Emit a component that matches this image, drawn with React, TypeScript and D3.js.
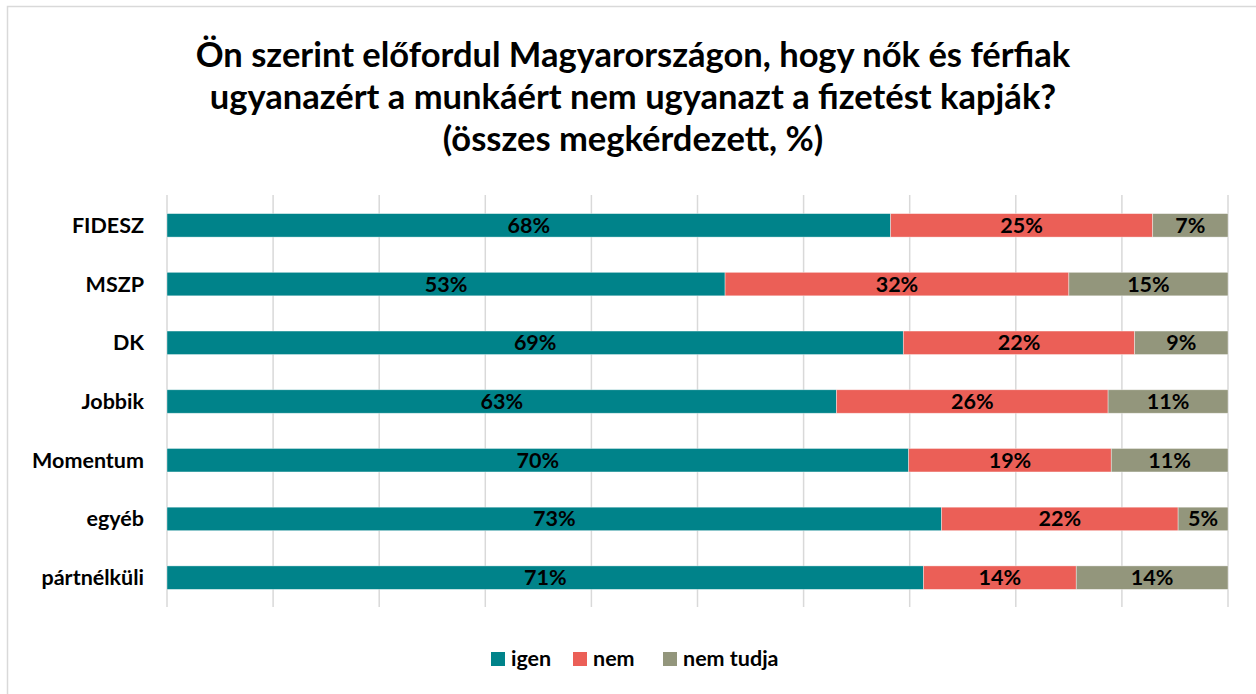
import React from "react";
import * as d3 from "d3";

const categories = ["FIDESZ", "MSZP", "DK", "Jobbik", "Momentum", "egyéb", "pártnélküli"];
const igen = [68.2, 52.6, 69.4, 63.1, 69.9, 73.0, 71.3];
const nem = [24.7, 32.4, 21.8, 25.6, 19.1, 22.3, 14.4];
const nemTudja = [7.1, 15.0, 8.8, 11.3, 11.0, 4.7, 14.3];
const seriesNames = ["igen", "nem", "nem tudja"];
const seriesColors = ["#00838a", "#eb5f57", "#93967c"];
const ticks = [0, 10, 20, 30, 40, 50, 60, 70, 80, 90, 100];
const titleLines = [
  "Ön szerint előfordul Magyarországon, hogy nők és férfiak",
  "ugyanazért a munkáért nem ugyanazt a fizetést kapják?",
  "(összes megkérdezett, %)",
];

const W = 1256;
const H = 694;
const FONT = "Lato, 'Open Sans', sans-serif";

export default function App() {
  const x = d3.scaleLinear().domain([0, 100]).range([167, 1228]);
  const y = d3.scaleBand<string>().domain(categories).range([196, 607]).paddingInner(0.6).paddingOuter(0.3);
  const table = categories.map((c, i) => ({ cat: c, igen: igen[i], nem: nem[i], "nem tudja": nemTudja[i] }));
  const stack = d3.stack<any>().keys(seriesNames)(table);

  return (
    <svg width={W} height={H} style={{ position: "absolute", left: 0, top: 0, display: "block" }} fontFamily={FONT}>
      <rect x={0} y={0} width={W} height={H} fill="#fff" />
      <rect x={7.5} y={6.5} width={W + 10} height={H + 10} fill="none" stroke="#d9d9d9" strokeWidth={1.5} />
      {titleLines.map((t, i) => (
        <text key={i} x={633} y={67 + i * 42} textAnchor="middle" fontSize={34.5} fontWeight={700} fill="#000">
          {t}
        </text>
      ))}
      {ticks.map((t) => (
        <line key={t} x1={x(t)} x2={x(t)} y1={195} y2={607} stroke="#d9d9d9" strokeWidth={1.5} />
      ))}
      {stack.map((s, si) =>
        s.map((d, i) => {
          const x0 = x(d[0]);
          const x1 = x(d[1]);
          const v = d[1] - d[0];
          const yy = y(categories[i])!;
          return (
            <g key={si + "-" + i}>
              <rect x={x0} y={yy} width={x1 - x0} height={y.bandwidth()} fill={seriesColors[si]} stroke="#ffffff" strokeOpacity={0.5} strokeWidth={0.75} />
              <text x={(x0 + x1) / 2} y={yy + y.bandwidth() / 2 + 7.5} textAnchor="middle" fontSize={21.5} fontWeight={700} fill="#000">
                {Math.round(v) + "%"}
              </text>
            </g>
          );
        })
      )}
      {categories.map((c) => (
        <text key={c} x={144} y={y(c)! + y.bandwidth() / 2 + 7.5} textAnchor="end" fontSize={21.5} fontWeight={700} fill="#000">
          {c}
        </text>
      ))}
      {(() => {
        const starts = [491, 573, 663];
        return seriesNames.map((n, i) => (
          <g key={n}>
            <rect x={starts[i]} y={652} width={14} height={14} fill={seriesColors[i]} />
            <text x={starts[i] + 20} y={666} fontSize={21.5} fontWeight={700} fill="#000">
              {n}
            </text>
          </g>
        ));
      })()}
    </svg>
  );
}
